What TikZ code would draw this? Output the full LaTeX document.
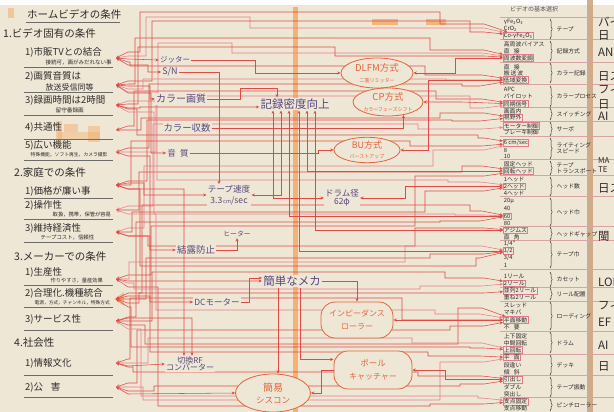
\documentclass[tikz,border=0pt]{standalone}
\usepackage{fontspec}
\setmainfont{Noto Sans CJK JP}
\usetikzlibrary{arrows.meta,shapes.geometric,decorations.pathreplacing}
\definecolor{paper}{HTML}{EEE7D6}
\definecolor{wirered}{HTML}{DF4A47}
\definecolor{wirepink}{HTML}{E8808A}
\definecolor{ink}{HTML}{2E2A2A}
\definecolor{violet}{HTML}{5A4780}
\definecolor{orng}{HTML}{E5643C}
\definecolor{boxpink}{HTML}{E27A90}
\definecolor{tanbar}{HTML}{C9A27C}
\definecolor{hl}{HTML}{F4A255}
\definecolor{sepc}{HTML}{D7A3A3}
\newcommand{\fsz}[1]{\fontsize{#1}{#1}\selectfont}
\newcommand{\wirepath}[9]{\draw[wire,draw=#9] (#1) -- (128,#2) -- (#3,#2) -- (#3,#4) -- (#5,#4) -- (#5,#6) -- (#7,#6) -- (#8);}
\begin{document}
\begin{tikzpicture}[x=1pt,y=-1pt,
  >={Stealth[length=3.4pt,width=3pt]},
  wire/.style={draw=wirered,line width=0.55pt,<->},
  wireto/.style={draw=wirered,line width=0.55pt,->},
  lt/.style={anchor=west,text=ink,inner sep=1pt,font=\fsz{9.5}},
  hd/.style={anchor=west,text=ink,inner sep=1pt,font=\fsz{10.5}},
  sub/.style={anchor=west,text=ink,inner sep=0.5pt},
  uline/.style={draw=ink!70,line width=0.6pt},
  mid/.style={text=violet,fill=paper,inner sep=1pt,align=center},
  oval/.style={ellipse,draw=orng,line width=0.8pt,text=orng,fill=paper,align=center,inner sep=0pt},
  blob/.style={rectangle,rounded corners=14pt,draw=orng,line width=0.8pt,text=orng,fill=paper,align=center,inner sep=0pt},
  item/.style={anchor=west,text=ink,font=\fsz{5.8},inner sep=0.7pt},
  sel/.style={item,draw=boxpink,line width=0.5pt},
  cat/.style={anchor=west,text=ink,font=\fsz{5.8},inner sep=0.5pt,align=left},
  brc/.style={draw=ink,line width=0.5pt,decorate,decoration={brace,amplitude=2.2pt}},
  sep/.style={draw=sepc,line width=0.45pt},
  far/.style={anchor=west,text=ink,font=\fsz{11.5},inner sep=0pt}]
\useasboundingbox (0,0) rectangle (614,412);
\clip (0,0) rectangle (614,412);
\fill[paper] (0,0) rectangle (614,412);
\fill[white] (0,0) rectangle (614,5);
% highlights
\fill[hl,opacity=0.75] (293,7) rectangle (297.5,412);
\fill[hl,opacity=0.7] (372,19) rectangle (398,25);
\fill[hl,opacity=0.7] (426,19) rectangle (446,25);
\fill[hl,opacity=0.45] (8,8) rectangle (14,18);
\fill[hl,opacity=0.4] (56,121) rectangle (62,141);
\fill[hl,opacity=0.4] (64,124) rectangle (78,132);
\fill[hl,opacity=0.4] (88,126) rectangle (100,142);
\fill[hl,opacity=0.35] (58,132) rectangle (100,139);
\fill[hl,opacity=0.6] (114,299) -- (124,292) -- (124,306) -- cycle;
\fill[tanbar,opacity=0.85] (587,0) rectangle (593,412);

% ---------------- left column ----------------
\node[hd] (title) at (26,14) {ホームビデオの条件};
\draw[uline] (26,22) -- (120,22);
\node[hd] (h1) at (2,33) {1.ビデオ固有の条件};
\node[lt] (a1) at (24,52) {1)市販TVとの結合};
\node[sub,font=\fsz{5.5}] (a1s) at (45,62) {接続可，画がみだれない事};
\draw[uline] (24,67) -- (113,67);
\node[lt] (a2) at (24,76) {2)画質音質は};
\node[sub,font=\fsz{8}] (a2s) at (45,87) {放送受信同等};
\draw[uline] (24,92) -- (113,92);
\node[lt] (a3) at (24,100) {3)録画時間は2時間};
\node[sub,font=\fsz{5.6}] (a3s) at (55,110) {留守番録画};
\draw[uline] (24,115) -- (113,115);
\node[lt] (a4) at (24,127) {4)共通性};
\draw[uline] (24,139) -- (113,139);
\node[lt] (a5) at (24,145) {5)広い機能};
\node[sub,font=\fsz{4.8}] (a5s) at (30,155) {特殊機能，ソフト再生，カメラ撮影};
\draw[uline] (24,160) -- (113,160);
\node[hd] (h2) at (13,173) {2.家庭での条件};
\node[lt] (b1) at (24,191) {1)価格が廉い事};
\draw[uline] (24,198) -- (113,198);
\node[lt] (b2) at (24,205) {2)操作性};
\node[sub,font=\fsz{5.3}] (b2s) at (52,215) {取扱，携帯，保管が容易};
\draw[uline] (24,219) -- (113,219);
\node[lt] (b3) at (24,228) {3)維持経済性};
\node[sub,font=\fsz{5.4}] (b3s) at (40,238) {テープコスト，信頼性};
\draw[uline] (24,242) -- (113,242);
\node[hd] (h3) at (13,256) {3.メーカーでの条件};
\node[lt] (c1) at (24,272) {1)生産性};
\node[sub,font=\fsz{5.2}] (c1s) at (50,281) {作りやすさ，量産効果};
\draw[uline] (24,285) -- (113,285);
\node[lt] (c2) at (24,293) {2)合理化.機種統合};
\node[sub,font=\fsz{4.7}] (c2s) at (34,303) {電源，方式，チャンネル，特殊方式};
\draw[uline] (24,307) -- (113,307);
\node[lt] (c3) at (24,319) {3)サービス性};
\draw[uline] (24,330) -- (113,330);
\node[hd] (h4) at (13,343) {4.社会性};
\node[lt] (d1) at (24,363) {1)情報文化};
\draw[uline] (24,375) -- (113,375);
\node[lt] (d2) at (24,387) {2)公\hspace{0.8em}害};
\draw[uline] (24,397) -- (113,397);

\coordinate (L1) at (116,58);
\coordinate (L2) at (116,85);
\coordinate (L3) at (116,105);
\coordinate (L4) at (116,130);
\coordinate (L5) at (116,152);
\coordinate (L6) at (116,185);
\coordinate (L7) at (116,210);
\coordinate (L8) at (116,232);
\coordinate (L9) at (116,279);
\coordinate (L10) at (116,299);
\coordinate (L11) at (116,321);
\coordinate (L12) at (116,363);
\coordinate (L13) at (116,387);

% ---------------- right table ----------------
\node[anchor=west,text=ink!80,font=\fsz{6},inner sep=0pt] (thead) at (510,9) {ビデオの基本選択};
\foreach \yy in {17.5,39.5,62,84,107.5,121,136.5,159.5,175.5,196.5,226.5,240.5,269,287,301,331,354,375.5,397.5}
  {\draw[sep] (500,\yy) -- (614,\yy);}
\node[item] (i1) at (503,22) {γFe\textsubscript{2}O\textsubscript{3}};
\node[item] (i2) at (503,29) {CrO\textsubscript{2}};
\node[sel] (Rtape) at (503,35.5) {Co-γFe\textsubscript{2}O\textsubscript{3}};
\node[item] (i4) at (503,44) {高周波バイアス};
\node[item] (i5) at (503,51) {直\hspace{0.7em}接};
\node[sel] (Rrec) at (503,58) {周波数変調};
\node[item] (i7) at (503,67) {直\hspace{0.7em}接};
\node[item] (i8) at (503,73.5) {搬\,送\,波};
\node[sel] (Rcol) at (503,80) {低域変換};
\node[item] (i10) at (503,89) {APC};
\node[item] (i11) at (503,96.5) {パイロット};
\node[sel] (Rproc) at (503,104) {同期信号};
\node[item] (i13) at (503,111) {画面内};
\node[sel] (Rsw) at (503,117.5) {視野外};
\node[sel] (Rservo) at (503,126) {モーター制御};
\node[item] (i16) at (503,132.5) {ブレーキ制御};
\node[sel] (Rws) at (503,143) {6 cm/sec};
\node[item] (i18) at (503,150) {8};
\node[item] (i19) at (503,156) {10};
\node[item] (i20) at (503,164) {固定ヘッド};
\node[sel] (Rtt) at (503,171) {回転ヘッド};
\node[item] (i22) at (503,179) {1ヘッド};
\node[sel] (Rhn) at (503,186) {2ヘッド};
\node[item] (i24) at (503,193) {4ヘッド};
\node[item] (i25) at (503,201) {20μ};
\node[item] (i26) at (503,208) {40};
\node[sel] (Rhw) at (503,216) {60};
\node[item] (i28) at (503,223) {80};
\node[sel] (Rgap) at (503,230.5) {アジムス};
\node[item] (i30) at (503,237) {直\hspace{0.7em}角};
\node[item] (i31) at (503,244) {1/4"};
\node[sel] (Rtw) at (503,251) {1/2};
\node[item] (i33) at (503,258) {3/4};
\node[item] (i34) at (503,265) {1};
\node[item] (i35) at (503,276) {1リール};
\node[sel] (Rcas) at (503,283) {2リール};
\node[sel] (Rreel) at (503,290.5) {並列2リール};
\node[item] (i38) at (503,297) {重ね2リール};
\node[item] (i39) at (503,305) {スレッド};
\node[item] (i40) at (503,312.5) {マキバ};
\node[sel] (Rload) at (503,320) {平面移動};
\node[item] (i42) at (503,327) {不\hspace{0.7em}要};
\node[item] (i43) at (503,336) {上下固定};
\node[item] (i44) at (503,343) {中間回転};
\node[sel] (Rdrum) at (503,350) {上回転};
\node[sel] (Rdeck) at (503,357.5) {平\hspace{0.7em}面};
\node[item] (i47) at (503,365) {段違い};
\node[item] (i48) at (503,372) {傾\hspace{0.7em}斜};
\node[sel] (Rvib) at (503,379.5) {引出し};
\node[item] (i50) at (503,387) {ダブル};
\node[item] (i51) at (503,394) {突出し};
\node[sel] (Rpinch) at (503,401.5) {支点固定};
\node[item] (i53) at (503,408.5) {支点移動};
% braces and categories
\draw[brc] (550,19) -- (550,39);  \node[cat] (g1) at (556,29) {テープ};
\draw[brc] (550,41) -- (550,61);  \node[cat] (g2) at (556,51) {記録方式};
\draw[brc] (550,63) -- (550,83);  \node[cat] (g3) at (556,73) {カラー記録};
\draw[brc] (550,86) -- (550,107); \node[cat] (g4) at (556,96) {カラープロセス};
\draw[brc] (550,108) -- (550,120); \node[cat] (g5) at (556,114) {スイッチング};
\draw[brc] (550,122) -- (550,136); \node[cat] (g6) at (556,129) {サーボ};
\draw[brc] (550,138) -- (550,159); \node[cat] (g7) at (556,148) {ライティング\\スピード};
\draw[brc] (550,161) -- (550,175); \node[cat] (g8) at (556,168) {テープ\\トランスポート};
\draw[brc] (550,177) -- (550,196); \node[cat] (g9) at (556,186) {ヘッド数};
\draw[brc] (550,198) -- (550,226); \node[cat] (g10) at (556,212) {ヘッド巾};
\draw[brc] (550,227) -- (550,240); \node[cat] (g11) at (556,234) {ヘッドギャップ};
\draw[brc] (550,241) -- (550,268); \node[cat] (g12) at (556,254) {テープ巾};
\draw[brc] (550,272) -- (550,287); \node[cat] (g13) at (556,279) {カセット};
\draw[brc] (550,288) -- (550,300); \node[cat] (g14) at (556,294) {リール配置};
\draw[brc] (550,302) -- (550,330); \node[cat] (g15) at (556,316) {ローディング};
\draw[brc] (550,332) -- (550,353); \node[cat] (g16) at (556,343) {ドラム};
\draw[brc] (550,355) -- (550,375); \node[cat] (g17) at (556,365) {デッキ};
\draw[brc] (550,377) -- (550,397); \node[cat] (g18) at (556,387) {テープ振動};
\draw[brc] (550,399) -- (550,411); \node[cat] (g19) at (556,405) {ピンチローラー};
% far right column (cut off as in the original)
\node[far] (f1) at (598,22) {バイ};
\node[far] (f2) at (598,35) {日};
\node[far] (f3) at (598,52) {AN};
\node[far] (f4) at (598,76) {日ス};
\node[far] (f5) at (598,90) {フィ};
\node[far] (f6) at (598,104) {日};
\node[far] (f7) at (598,116) {AI};
\node[far,font=\fsz{8}] (f8) at (598,161) {MA};
\node[far,font=\fsz{8}] (f9) at (598,170) {TE};
\node[far] (f10) at (598,188) {日ス};
\node[far] (f11) at (598,236) {閩};
\node[far] (f12) at (598,282) {LOI};
\node[far] (f13) at (598,306) {フィ};
\node[far] (f14) at (598,322) {EF};
\node[far] (f15) at (598,345) {AI};
\node[far] (f16) at (598,366) {日};

% ---------------- through wires ----------------
\wirepath{L1}{52}{140}{12}{440}{24}{484}{Rtape}{wirered}
\wirepath{L1}{56}{146}{17}{250}{28}{484}{Rtape}{wirepink}
\wirepath{L2}{81}{152}{21}{470}{32}{484}{Rtape}{wirered}
\wirepath{L2}{84}{135}{38}{430}{50}{484}{Rrec}{wirered}
\wirepath{L3}{101}{158}{43}{232}{53}{482}{Rrec}{wirepink}
\wirepath{L3}{104}{138}{47}{335}{56}{484}{Rrec}{wirered}
\wirepath{L1}{62}{130}{66}{425}{75}{482}{Rcol}{wirered}
\wirepath{L2}{89}{143}{79}{446}{80}{484}{Rcol}{wirepink}
\wirepath{L5}{148}{149}{84}{462}{86}{480}{Rcol}{wirered}
\wirepath{L4}{126}{134}{91}{436}{99}{482}{Rproc}{wirered}
\wirepath{L5}{152}{156}{96}{470}{108}{484}{Rproc}{wirepink}
\wirepath{L4}{130}{141}{118}{440}{113}{484}{Rsw}{wirered}
\wirepath{L6}{181}{147}{120}{452}{121}{480}{Rsw}{wirered}
\wirepath{L7}{206}{153}{124}{418}{129}{482}{Rservo}{wirepink}
\wirepath{L3}{109}{137}{135}{478}{138}{484}{Rws}{wirered}
\wirepath{L6}{185}{131}{141}{410}{146}{482}{Rws}{wirered}
\wirepath{L8}{228}{144}{166}{433}{150}{484}{Rws}{wirepink}
\wirepath{L7}{210}{139}{172}{462}{166}{482}{Rtt}{wirered}
\wirepath{L9}{275}{151}{226}{415}{176}{484}{Rtt}{wirered}
\wirepath{L2}{92}{157}{180}{448}{182}{480}{Rhn}{wirepink}
\wirepath{L8}{232}{132}{212}{425}{191}{484}{Rhn}{wirered}
\wirepath{L10}{293}{142}{205}{470}{211}{482}{Rhw}{wirered}
\wirepath{L3}{112}{154}{214}{455}{215}{484}{Rhw}{wirepink}
\wirepath{L11}{317}{136}{222}{440}{221}{480}{Rhw}{wirered}
\wirepath{L8}{236}{148}{246}{415}{228}{484}{Rgap}{wirered}
\wirepath{L9}{279}{129}{262}{405}{246}{482}{Rtw}{wirepink}
\wirepath{L10}{299}{146}{258}{430}{254}{484}{Rtw}{wirered}
\wirepath{L6}{189}{140}{266}{476}{258}{480}{Rtw}{wirered}
\wirepath{L11}{321}{152}{272}{445}{278}{484}{Rcas}{wirered}
\wirepath{L9}{283}{134}{289}{420}{286}{482}{Rcas}{wirepink}
\wirepath{L10}{303}{139}{293}{465}{293}{484}{Rreel}{wirered}
\wirepath{L11}{325}{145}{344}{458}{308}{482}{Rload}{wirered}
\wirepath{L7}{214}{156}{310}{435}{314}{480}{Rload}{wirepink}
\wirepath{L12}{359}{130}{298}{402}{320}{484}{Rload}{wirered}
\wirepath{L13}{383}{137}{330}{450}{326}{484}{Rload}{wirered}
\wirepath{L12}{363}{148}{338}{412}{343}{482}{Rdrum}{wirepink}
\wirepath{L10}{307}{131}{347}{470}{348}{484}{Rdrum}{wirered}
\wirepath{L5}{156}{150}{352}{428}{356}{480}{Rdeck}{wirered}
\wirepath{L13}{387}{143}{400}{440}{362}{484}{Rdeck}{wirepink}
\wirepath{L12}{367}{133}{372}{418}{376}{482}{Rvib}{wirered}
\wirepath{L13}{391}{154}{386}{460}{384}{484}{Rvib}{wirered}
\wirepath{L11}{329}{141}{396}{478}{398}{482}{Rpinch}{wirepink}
\wirepath{L9}{287}{158}{406}{430}{404}{484}{Rpinch}{wirered}

% ---------------- middle nodes ----------------
\node[mid,font=\fsz{7.5}] (jit) at (175,60) {ジッター};
\node[mid,font=\fsz{9}] (sn) at (170,72) {S/N};
\node[mid,font=\fsz{10}] (colq) at (181,99) {カラー画質};
\node[mid,font=\fsz{9.4}] (colc) at (187,128) {カラー収数};
\node[mid,font=\fsz{8.5}] (audio) at (178,153) {音\hspace{0.5em}質};
\node[mid,font=\fsz{11.5}] (rec) at (295,104) {記録密度向上};
\node[mid,font=\fsz{8.6}] (speed) at (229,195) {テープ速度\\[2pt]3.3{\fsz{5.5}\,cm}/sec};
\node[mid,font=\fsz{6.8}] (heater) at (237,234) {ヒーター};
\node[mid,font=\fsz{9.5}] (dew) at (196,250) {結露防止};
\node[mid,font=\fsz{11.5}] (mech) at (292,281) {簡単なメカ};
\node[mid,font=\fsz{8.5}] (dcm) at (217,302) {DCモーター};
\node[mid,font=\fsz{8}] (rf) at (190,364) {切換RF\\[-1pt]コンバーター};
\node[mid,font=\fsz{8.5}] (drum) at (342,198) {ドラム径\\[0pt]62φ};
\node[oval,minimum width=72pt,minimum height=30pt] (dlfm) at (377,73) {{\fsz{9.5}DLFM方式}\\[-1pt]{\fsz{5}二重リミッター}};
\node[oval,minimum width=66pt,minimum height=28pt] (cp) at (388,102) {{\fsz{9.5}CP方式}\\[-1pt]{\fsz{5}カラーフェーズシフト}};
\node[oval,minimum width=66pt,minimum height=25pt] (bu) at (367,150) {{\fsz{9}BU方式}\\[-2pt]{\fsz{5}バーストアップ}};
\node[blob,minimum width=72pt,minimum height=36pt] (imp) at (357,320) {{\fsz{8}インピーダンス}\\[1pt]{\fsz{8}ローラー}};
\node[blob,minimum width=78pt,minimum height=38pt] (pole) at (373,370) {{\fsz{8.5}ポール}\\[1pt]{\fsz{8}キャッチャー}};
\node[oval,minimum width=75pt,minimum height=38pt] (syscon) at (273,393) {{\fsz{10}簡易}\\[0pt]{\fsz{8.5}シスコン}};

% ---------------- middle wires ----------------
\draw[wire] (L1) -- (128,59) -- (jit.west);
\draw[wire] (L1) -- (128,65) -- (148,65) |- (sn.west);
\draw[wireto] (jit.east) -- (255,60) |- (dlfm.west);
\draw[wireto] (sn.east) -| ([xshift=-10pt]speed.north);
\draw[wire] (L2) -- (128,86) -- (150,86) |- (colq.west);
\draw[wire] (L2) -- (128,93) -- (151,93) |- (audio.west);
\draw[wireto] (colq.east) -- (240,99) -- (240,88) -| ([xshift=-18pt]rec.north);
\draw[wireto] (colc.east) -| (cp.-40);
\draw[wireto] (audio.east) -- (318,153) |- (bu.west);
\draw[wire] (L3) -- (128,108) -- (140,108) |- ([yshift=-3pt]rec.west);
\draw[wire] (L6) -- (128,183) -- (144,183) |- (speed.west);
\draw[wire] (L8) -- (128,236) -- (150,236) |- (dew.west);
\draw[wireto] (dew.east) -| (heater.south);
\draw[wire] (L9) -- (128,281) -- (mech.west);
\draw[wireto] (dcm.east) -- ++(8,0) |- ([yshift=3pt]mech.west);
\draw[wire] (L10) -- (128,296) -- (150,296) |- (dcm.west);
\coordinate (m1) at ([xshift=-14pt]mech.south);
\draw[wireto] (m1) -- (m1 |- syscon.north);
\draw[wireto] (mech.east) -| (imp.north);
\draw[wireto] ([xshift=8pt]mech.south) |- (pole.165);
\draw[wire] (L12) -- (128,366) -- (rf.west);
\draw[wire] (L6) -- (128,189) -| ([xshift=-6pt]rf.north);
\draw[wire] (L11) -- (128,318) -| ([xshift=2pt]rf.north);
\draw[wire] (L13) -- (128,394) -- (syscon.west);
\draw[wireto] (pole.west) -- ++(-12,0) |- (syscon.east);
\draw[wire] (pole.east) -- (445,370) |- (Rvib);
\draw[wire] (imp.east) -- (Rload);
\draw[wire] (drum.east) -- (405,198) |- (Rhn);
\draw[wire] (bu.east) -- (428,150) |- (Rcol);
\draw[wire] (cp.east) -- (462,102) -- (Rproc);
\draw[wire] (dlfm.east) -- (455,73) |- (Rrec);
\draw[wire] ([xshift=-22pt]rec.south) |- (drum.west);
\draw[wire] ([xshift=-14pt]rec.south) |- (speed.east);
\draw[wire] ([xshift=-6pt]rec.south) |- (Rhw);
\draw[wire] ([xshift=4pt]rec.south) |- (Rtw);
\draw[wire] ([xshift=12pt]rec.south) |- (Rtt);
\draw[wire] ([xshift=20pt]rec.south) |- (Rgap);
\end{tikzpicture}
\end{document}
